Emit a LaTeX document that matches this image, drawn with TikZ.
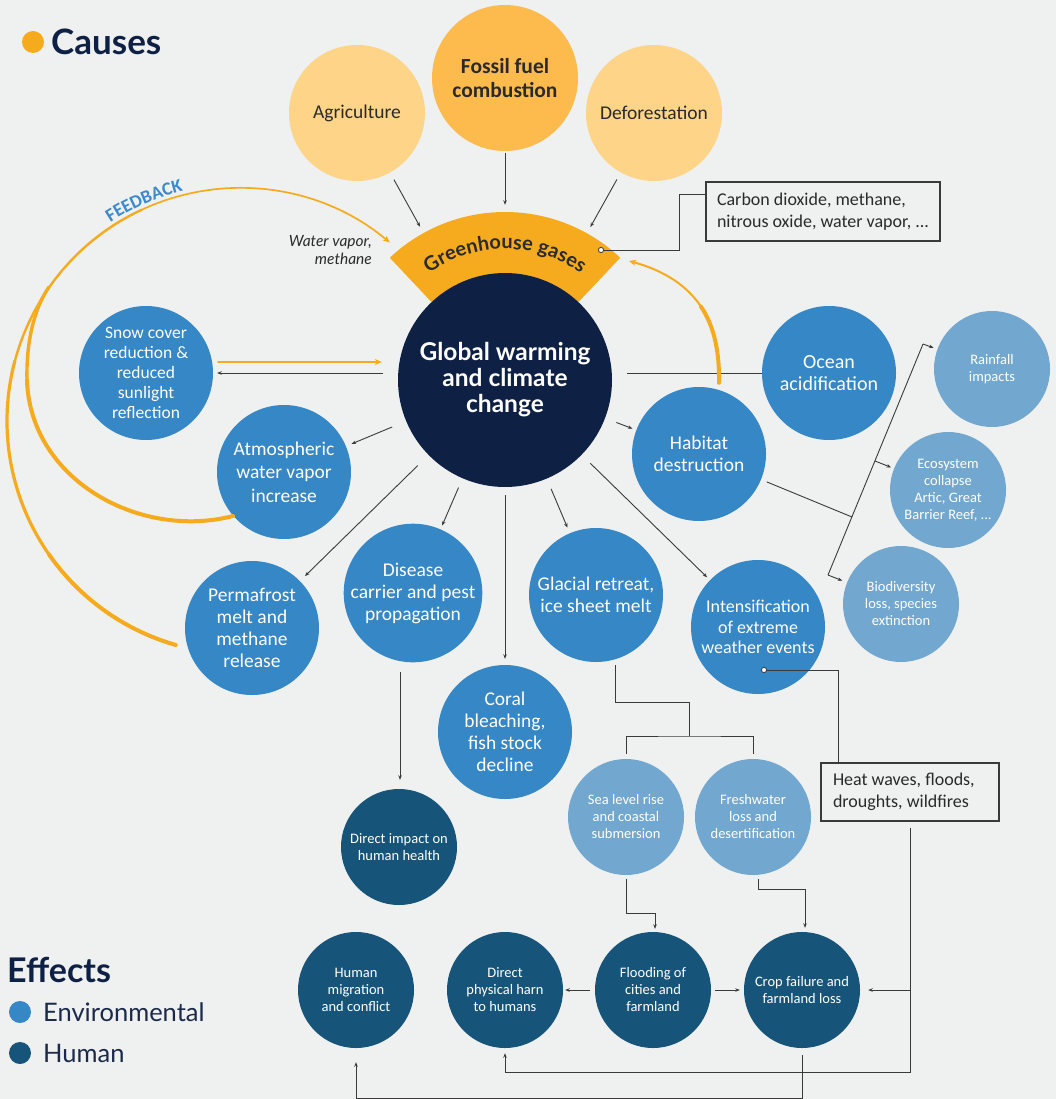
\documentclass[tikz,border=0pt]{standalone}
\usepackage{fontspec}
\setmainfont{Carlito}
\newfontfamily\lato{Lato}
\usetikzlibrary{arrows.meta,decorations.text}
\definecolor{bgc}{HTML}{EFF0F0}
\definecolor{causel}{HTML}{FDD488}
\definecolor{fossilc}{HTML}{FDBB4E}
\definecolor{bandc}{HTML}{F6AB1E}
\definecolor{navyc}{HTML}{0E2145}
\definecolor{envb}{HTML}{3687C6}
\definecolor{envl}{HTML}{72A7D0}
\definecolor{humc}{HTML}{175479}
\definecolor{lc}{HTML}{3A3A3A}
\definecolor{ctext}{HTML}{2A2A2A}
\definecolor{fbblue}{HTML}{3A8ACF}
\definecolor{legtext}{HTML}{1B2A4A}
\newcommand\myfs[2]{\fontsize{#1pt}{#2pt}\selectfont}
\newcommand\ghfont{\lato\bfseries\myfs{20}{24}}
\newcommand\fbfont{\bfseries\myfs{18.5}{20}}
\tikzset{
  bub/.style={circle, inner sep=0pt, align=center, text=white},
  envc/.style={bub, fill=envb, minimum size=134pt, font=\myfs{19.5}{22}},
  litec/.style={bub, fill=envl, minimum size=116pt, font=\myfs{14.5}{17}},
  humn/.style={bub, fill=humc, minimum size=116pt, font=\myfs{14.5}{17}},
  causec/.style={bub, fill=causel, text=ctext, minimum size=136pt, font=\myfs{19.5}{22}},
  ln/.style={draw=lc, line width=0.9pt},
  arr/.style={ln, -{Stealth[length=4.5pt,width=3.5pt]}},
  orl/.style={draw=bandc, line cap=round},
  ora/.style={orl, -{Stealth[length=7pt,width=6pt]}},
  boxn/.style={draw=lc, line width=1.1pt, fill=bgc, text=ctext, align=flush left, font=\myfs{18}{21.5}, inner sep=0pt},
  legdot/.style={circle, inner sep=0pt, minimum size=22pt},
  dotw/.style={fill=white, draw=lc, line width=0.8pt},
}
\begin{document}
\begin{tikzpicture}[x=1pt, y=-1pt]
\fill[bgc] (0,0) rectangle (1056,1099);
\useasboundingbox (0,0) rectangle (1056,1099);

% legend
\node[legdot, fill=bandc] (ldot) at (33,42) {};
\node[anchor=west, inner sep=0pt, text=navyc, font=\lato\bfseries\myfs{35}{38}] (lcauses) at (51,42) {Causes};
\node[anchor=west, inner sep=0pt, text=navyc, font=\lato\bfseries\myfs{34}{38}] (leffects) at (7,970) {Effects};
\node[legdot, fill=envb] (ledot) at (20,1012) {};
\node[anchor=west, inner sep=0pt, text=legtext, font=\lato\myfs{25.5}{28}] (lenv) at (43,1012) {Environmental};
\node[legdot, fill=humc] (lhdot) at (20,1053) {};
\node[anchor=west, inner sep=0pt, text=legtext, font=\lato\myfs{25.5}{28}] (lhum) at (43,1053) {Human};

% causes
\node[causec] (agri) at (357,113) {Agriculture};
\node[causec, fill=fossilc, minimum size=146pt, font=\bfseries\myfs{21.5}{24}] (fossil) at (505,78) {Fossil fuel\\combustion};
\node[causec] (defor) at (654,113) {Deforestation};

% greenhouse band
\coordinate (gwc) at (505,380);
\fill[bandc] (gwc) -- ++(133.3:168pt) arc[start angle=133.3, end angle=46.7, radius=168pt] -- cycle;

% central node
\node[bub, fill=navyc, minimum size=214pt, font=\lato\bfseries\myfs{24.5}{26}] (gw) at (505,380) {Global warming\\and climate\\change};

\path[decorate, decoration={text along path, text={|\ghfont|Greenhouse gases}, text align=center, text color=ctext}]
  (gwc) ++(129:131pt) arc[start angle=129, end angle=51, radius=131pt];

\node[anchor=east, inner sep=0pt, align=right, text=ctext, font=\lato\itshape\myfs{15.5}{18}] (wv) at (372,250) {Water vapor,\\methane};

% environmental effects
\node[envc, font=\myfs{17.5}{20}] (snow) at (146,373) {Snow cover\\reduction \&\\reduced\\sunlight\\reflection};
\node[envc, font=\myfs{19.5}{23.5}] (atmo) at (284,472) {Atmospheric\\water vapor\\increase};
\node[envc] (perma) at (252,628) {Permafrost\\melt and\\methane\\release};
\node[envc] (disease) at (413,593) {Disease\\carrier and pest\\propagation};
\node[envc] (coral) at (505,732) {Coral\\bleaching,\\fish stock\\decline};
\node[envc] (glacial) at (596,595) {Glacial retreat,\\ice sheet melt};
\node[envc, font=\myfs{18}{20.5}] (intens) at (758,627) {Intensification\\of extreme\\weather events};
\node[envc, font=\myfs{20}{21.5}] (ocean) at (829,373) {Ocean\\acidification};
\node[envc, font=\myfs{19.5}{22}] (habitat) at (699,454) {Habitat\\destruction};

\node[litec] (rain) at (992,369) {Rainfall\\impacts};
\node[litec] (eco) at (948,490) {Ecosystem\\collapse\\Artic, Great\\Barrier Reef, ...};
\node[litec] (bio) at (901,604) {Biodiversity\\loss, species\\extinction};
\node[litec] (sea) at (626,817) {Sea level rise\\and coastal\\submersion};
\node[litec] (fresh) at (753,817) {Freshwater\\loss and\\desertification};

% human effects
\node[humn] (health) at (399,847) {Direct impact on\\human health};
\node[humn] (migr) at (356,990) {Human\\migration\\and conflict};
\node[humn] (direct) at (505,990) {Direct\\physical harn\\to humans};
\node[humn] (flood) at (653,990) {Flooding of\\cities and\\farmland};
\node[humn] (crop) at (802,990) {Crop failure and\\farmland loss};

% boxes
\node[boxn, minimum width=234pt, minimum height=59pt, text width=212pt] (co2) at (823,211.5) {Carbon dioxide, methane,\\nitrous oxide, water vapor, ...};
\node[boxn, minimum width=178pt, minimum height=58pt, text width=154pt] (heat) at (910,792) {Heat waves, floods,\\droughts, wildfires};

% cause arrows
\draw[arr, shorten <=8pt, shorten >=68pt] (agri) -- (gw);
\draw[arr, shorten <=2pt, shorten >=68pt] (fossil) -- (gw);
\draw[arr, shorten <=8pt, shorten >=68pt] (defor) -- (gw);

% effect arrows from centre
\draw[arr] ([xshift=-15pt,yshift=7pt]gw.west) -- ([xshift=4pt]snow.east);
\draw[arr, shorten <=15pt, shorten >=6pt] (gw) -- (atmo);
\draw[arr, shorten <=15pt, shorten >=7pt] (gw) -- (perma);
\draw[arr, shorten <=10pt, shorten >=4pt] (gw) -- (disease);
\draw[arr, shorten <=8pt, shorten >=6pt] (gw) -- (coral);
\draw[arr, shorten <=11pt, shorten >=6pt] (gw) -- (glacial);
\draw[arr, shorten <=12pt, shorten >=4pt] (gw) -- (intens);
\draw[arr, shorten <=12pt, shorten >=4pt] (gw) -- (habitat);
\draw[ln] ([xshift=15pt,yshift=7pt]gw.east) -- (ocean.west);

% habitat branching
\coordinate (hb) at (852,517);
\coordinate (btop) at (923,344);
\coordinate (bbot) at (828,575);
\coordinate (beco) at (875,461);
\draw[ln, shorten <=6pt] (habitat) -- (hb);
\draw[ln] (bbot) -- (btop);
\draw[arr, shorten >=4pt] (btop) -- (rain);
\draw[arr, shorten >=3pt] (beco) -- (eco);
\draw[arr, shorten >=5pt] (bbot) -- (bio);

% glacial tree
\coordinate (gsplit) at (689,736);
\draw[ln] ([xshift=19pt,yshift=-3pt]glacial.south) -- ++(0,37) -| (gsplit);
\draw[ln] ([yshift=5pt]sea.north) |- (gsplit) -| ([yshift=5pt]fresh.north);

% disease to health
\draw[arr] ([xshift=-13pt,yshift=-9pt]disease.south) -- ([xshift=1pt,yshift=9pt]health.north);

% sea / fresh to human
\draw[arr] ([yshift=-4pt]sea.south) |- ([xshift=2pt,yshift=18pt]flood.north) -- ([xshift=2pt,yshift=3pt]flood.north);
\draw[arr] ([xshift=5pt,yshift=-4pt]fresh.south) |- ([xshift=3pt,yshift=42pt]crop.north) -- ([xshift=3pt,yshift=4pt]crop.north);

% bottom row
\draw[arr] ([xshift=-5pt]flood.west) -- ([xshift=2pt]direct.east);
\draw[arr] ([xshift=4pt]flood.east) -- ([xshift=-4pt]crop.west);

% extreme weather -> heat box
\coordinate (idot) at ([xshift=6pt,yshift=-43pt]intens.center);
\draw[ln] (idot) -| ([xshift=-72pt]heat.north);
\fill[dotw] (idot) circle (2.6pt);

% heat box -> crop & direct
\draw[arr] ([yshift=-6pt]heat.south) |- ([yshift=-24pt]direct.south) -- ([yshift=-5pt]direct.south);
\draw[arr] (heat.south |- crop.east) -- ([xshift=8pt]crop.east);

% crop -> migration
\draw[arr] ([yshift=-7pt]crop.south) |- ([yshift=-50pt]migr.south) -- ([yshift=-14pt]migr.south);

% greenhouse gases -> box
\coordinate (gdot) at (601,250);
\draw[ln] (gdot) -- ++(78,0) |- ([yshift=17.5pt]co2.west);
\fill[dotw] (gdot) circle (2.6pt);

% feedback (orange)
\draw[ora, line width=2pt] ([xshift=5pt,yshift=11pt]snow.east) -- ([xshift=-16pt,yshift=18pt]gw.west);

\coordinate (fbc) at (240,421);
\draw[orl, line width=4pt] (fbc) ++(254:233pt) arc[start angle=254, end angle=215, radius=233pt];
\draw[orl, line width=3.2pt] (fbc) ++(215:233pt) arc[start angle=215, end angle=165, radius=233pt];
\draw[orl, line width=2.4pt] (fbc) ++(165:233pt) arc[start angle=165, end angle=115, radius=233pt];
\draw[ora, line width=1.7pt] (fbc) ++(115:233pt) arc[start angle=115, end angle=50, radius=233pt];

\draw[orl, line width=4pt] (233,516) .. controls (140,540) and (30,480) .. (27,380);
\draw[orl, line width=3.4pt] (27,380) .. controls (26,340) and (35,307) .. (49,287);

\draw[orl, line width=4pt] ([xshift=20pt,yshift=4pt]habitat.north) .. controls (719.5,353) and (714.75,327.25) .. (701,306.6);
\draw[ora, line width=2pt] (701,306.6) .. controls (687.25,286) and (664.5,270.5) .. (629,261);

\path[decorate, decoration={text along path, text={|\fbfont|FEEDBACK}, text align=center, text color=fbblue}]
  (fbc) ++(133:237pt) arc[start angle=133, end angle=94, radius=237pt];

\end{tikzpicture}
\end{document}
